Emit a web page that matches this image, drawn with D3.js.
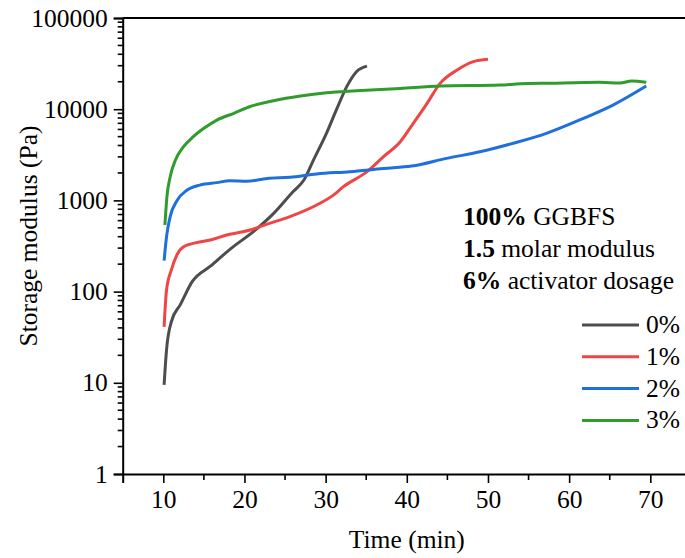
<!DOCTYPE html>
<html>
<head>
<meta charset="utf-8">
<script src="https://cdn.jsdelivr.net/npm/d3@7"></script>
<style>
  html, body { margin: 0; padding: 0; background: #fff; }
  svg { display: block; }
  text { font-family: "Times New Roman", Tinos, "Liberation Serif", "Nimbus Roman", Times, serif; fill: #000; }
</style>
</head>
<body>
<svg id="chart" width="685" height="558"></svg>
<script>
// Storage modulus vs. time for four additive dosages
const seriesNames = ["0%", "1%", "2%", "3%"];
const seriesColors = ["#4d4d4d", "#f04545", "#1f6fdc", "#2f9c2c"];

const time0 = [10.1, 10.4, 11.0, 12.1, 13.6, 15.8, 18.4, 21.1, 23.6, 26.0, 27.3, 28.5, 30.1, 31.4, 32.6, 33.8, 35.1];
const modulus0 = [9.5, 23, 47, 72, 130, 190, 300, 454, 720, 1250, 1660, 2770, 5440, 10200, 17700, 25800, 29700];

const time1 = [10.1, 10.4, 11.0, 11.7, 12.5, 14.1, 15.8, 17.8, 20.7, 22.8, 25.6, 28.9, 31.0, 32.2, 35.1, 37.1, 39.2, 40.8, 42.5, 44.1, 46.2, 48.2, 50.0];
const modulus1 = [41, 104, 173, 255, 311, 344, 368, 417, 473, 550, 664, 890, 1150, 1415, 2065, 3000, 4400, 7000, 11600, 19200, 26900, 33200, 35200];

const time2 = [10.1, 10.4, 10.85, 11.7, 12.9, 14.5, 16.6, 18.2, 20.3, 22.8, 25.6, 28.9, 33.0, 37.1, 40.6, 44.9, 49.0, 53.1, 57.2, 61.3, 65.4, 69.5];
const modulus2 = [218, 400, 664, 1000, 1290, 1470, 1566, 1640, 1620, 1740, 1790, 1950, 2065, 2240, 2380, 2890, 3410, 4230, 5440, 7620, 11100, 17960];

const time3 = [10.2, 10.45, 10.85, 11.5, 12.5, 13.7, 15.0, 16.6, 18.7, 20.7, 23.6, 26.9, 30.1, 33.8, 39.2, 44.1, 51.5, 54.0, 57.7, 63.8, 66.3, 67.7, 69.5];
const modulus3 = [537, 1100, 1820, 2770, 3880, 5000, 6170, 7600, 9020, 10700, 12400, 13960, 15130, 15900, 16900, 17960, 18400, 19000, 19300, 19700, 19400, 20400, 19800];

const xTicks = [10, 20, 30, 40, 50, 60, 70];
const xMinorTicks = [15, 25, 35, 45, 55, 65];
const yTicks = [1, 10, 100, 1000, 10000, 100000];

const annotationLines = [
  { bold: "100%", rest: " GGBFS" },
  { bold: "1.5", rest: " molar modulus" },
  { bold: "6%", rest: " activator dosage" }
];

const times = [time0, time1, time2, time3];
const moduli = [modulus0, modulus1, modulus2, modulus3];
const series = seriesNames.map((name, i) => ({
  name,
  color: seriesColors[i],
  points: times[i].map((t, j) => ({ t, v: moduli[i][j] }))
}));

const svg = d3.select("#chart");
const fontSize = 25.5;
const fontFamily = '"Times New Roman", Tinos, "Liberation Serif", "Nimbus Roman", Times, serif';

const x = d3.scaleLinear().domain([5, 75]).range([122.7, 690.9]);
const y = d3.scaleLog().domain([1, 100000]).range([474, 18]);

// minor log ticks: 2..9 in every decade
const yMinorTicks = [];
for (let d = 1; d < 100000; d *= 10) {
  for (let k = 2; k <= 9; k++) yMinorTicks.push(d * k);
}

// frame top line
svg.append("line")
  .attr("x1", x(5)).attr("x2", x(75))
  .attr("y1", y(100000)).attr("y2", y(100000))
  .attr("stroke", "#000").attr("stroke-width", 2);

// x axis
const xAxis = svg.append("g").attr("transform", `translate(0,${y(1)})`)
  .call(d3.axisBottom(x).tickValues(xTicks).tickSize(9).tickPadding(7).tickFormat(d3.format("d")));
xAxis.attr("font-family", fontFamily);
xAxis.select(".domain").attr("stroke-width", 2);
xAxis.selectAll(".tick line").attr("stroke-width", 1.6);
xAxis.selectAll(".tick text").attr("font-size", fontSize);
xAxis.append("g").selectAll("line").data(xMinorTicks).join("line")
  .attr("x1", d => x(d)).attr("x2", d => x(d))
  .attr("y1", 0).attr("y2", 6)
  .attr("stroke", "#000").attr("stroke-width", 1.6);

// y axis
const yAxis = svg.append("g").attr("transform", `translate(${x(5)},0)`)
  .call(d3.axisLeft(y).tickValues(yTicks).tickSize(9).tickPadding(6).tickFormat(d3.format("d")));
yAxis.attr("font-family", fontFamily);
yAxis.select(".domain").attr("stroke-width", 2);
yAxis.selectAll(".tick line").attr("stroke-width", 1.6);
yAxis.selectAll(".tick text").attr("font-size", fontSize);
yAxis.append("g").selectAll("line").data(yMinorTicks).join("line")
  .attr("x1", 0).attr("x2", -5)
  .attr("y1", d => y(d)).attr("y2", d => y(d))
  .attr("stroke", "#000").attr("stroke-width", 1.6);

// axis titles
svg.append("text")
  .attr("x", (x(5) + 685) / 2 + 3).attr("y", 548)
  .attr("text-anchor", "middle").attr("font-size", fontSize)
  .text("Time (min)");
svg.append("text")
  .attr("transform", "translate(37,236) rotate(-90)")
  .attr("text-anchor", "middle").attr("font-size", fontSize)
  .text("Storage modulus (Pa)");

// curves
const line = d3.line()
  .x(d => x(d.t))
  .y(d => y(d.v))
  .curve(d3.curveMonotoneX);

svg.append("g").selectAll("path").data(series).join("path")
  .attr("d", d => line(d.points))
  .attr("fill", "none")
  .attr("stroke", d => d.color)
  .attr("stroke-width", 3)
  .attr("stroke-linejoin", "round")
  .attr("stroke-linecap", "butt");

// composition note
const note = svg.append("g");
annotationLines.forEach((l, i) => {
  const t = note.append("text")
    .attr("x", 463).attr("y", 225 + i * 32)
    .attr("font-size", fontSize);
  t.append("tspan").attr("font-weight", "bold").text(l.bold);
  t.append("tspan").text(l.rest);
});

// legend
const legend = svg.append("g");
series.forEach((s, i) => {
  const ly = 325 + i * 31.8;
  legend.append("line")
    .attr("x1", 582).attr("x2", 639)
    .attr("y1", ly).attr("y2", ly)
    .attr("stroke", s.color).attr("stroke-width", 3);
  legend.append("text")
    .attr("x", 646).attr("y", ly + 8)
    .attr("font-size", fontSize)
    .text(s.name);
});
</script>
</body>
</html>
